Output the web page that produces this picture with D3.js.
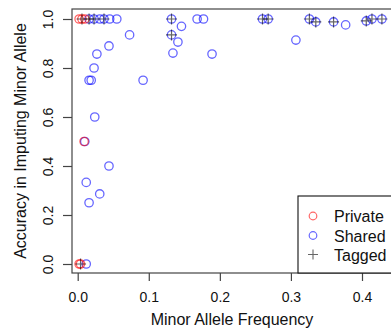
<!DOCTYPE html>
<html><head><meta charset="utf-8">
<script src="https://cdn.jsdelivr.net/npm/d3@7"></script>
<style>html,body{margin:0;padding:0;background:#fff}svg{display:block}text{font-family:"Liberation Sans",Arial,Helvetica,sans-serif}</style>
</head><body><svg id="c" width="391" height="335"></svg>
<script>
// Data
const privMaf = [0.002, 0.006, 0.010, 0.009, 0.002, 0.004];
const privAcc = [1, 1, 1, 0.5, 0, 0];
const privTag = [0, 1, 0, 0, 0, 1];

const sharedMaf = [0.016,0.023,0.031,0.037,0.045,0.055,0.132,0.168,0.177,0.260,0.268,0.326,0.414,0.428,
  0.335,0.360,0.377,0.406,0.132,0.146,0.141,0.134,0.073,0.044,0.027,0.023,0.016,0.019,0.092,0.024,
  0.010,0.044,0.012,0.031,0.016,0.012,0.189,0.307];
const sharedAcc = [1,1,1,1,1,1,1,1,1,1,1,1,1,1,
  0.988,0.988,0.976,0.992,0.935,0.970,0.906,0.861,0.935,0.890,0.857,0.800,0.750,0.750,0.750,0.600,
  0.500,0.400,0.333,0.286,0.250,0,0.857,0.914];
const sharedTag = [1,1,0,1,0,0,1,0,0,1,1,1,1,1,
  1,1,0,1,1,0,0,0,0,0,0,0,0,0,0,0,
  0,0,0,0,0,0,0,0];

const xTicks = [0, 0.1, 0.2, 0.3, 0.4];
const yTicks = [0, 0.2, 0.4, 0.6, 0.8, 1.0];
const legendLabels = ["Private", "Shared", "Tagged"];

const svg = d3.select("#c");
const x = d3.scaleLinear().domain([0, 0.4]).range([77.7, 362]);
const y = d3.scaleLinear().domain([0, 1]).range([264, 19]);

const plotL = 72, plotT = 9, plotB = 273, plotR = 420;
const axisCol = "#444";

// box
svg.append("rect").attr("x", plotL).attr("y", plotT).attr("width", plotR - plotL).attr("height", plotB - plotT)
  .attr("fill", "none").attr("stroke", axisCol).attr("stroke-width", 1.2);

// x axis
const xa = svg.append("g").attr("transform", `translate(0,${plotB})`)
  .call(d3.axisBottom(x).tickValues(xTicks).tickFormat(d3.format(".1f")).tickSize(8).tickPadding(11));
xa.select(".domain").remove();
xa.selectAll("line").attr("stroke", axisCol).attr("stroke-width", 1.2);
xa.selectAll("text").attr("font-size", 14).attr("fill", "#111");

// y axis
const ya = svg.append("g").attr("transform", `translate(${plotL},0)`)
  .call(d3.axisLeft(y).tickValues(yTicks).tickFormat(d3.format(".1f")).tickSize(9).tickPadding(0));
ya.select(".domain").remove();
ya.selectAll("line").attr("stroke", axisCol).attr("stroke-width", 1.2);
ya.selectAll("text").attr("font-size", 14).attr("fill", "#111")
  .attr("x", null).attr("dy", null)
  .attr("text-anchor", "middle")
  .attr("transform", "translate(-19,0) rotate(-90)");

// titles
svg.append("text").attr("x", 232).attr("y", 325).attr("text-anchor", "middle")
  .attr("font-size", 16).attr("fill", "#111").text("Minor Allele Frequency");
svg.append("text").attr("transform", "translate(26,141) rotate(-90)").attr("text-anchor", "middle")
  .attr("font-size", 16).attr("fill", "#111").text("Accuracy in Imputing Minor Allele");

const red = "rgba(255,0,0,0.6)", blue = "rgba(0,0,255,0.6)", blk = "rgba(0,0,0,0.6)";
const r = 4.2;

const privData = privMaf.map((m, i) => ({m, a: privAcc[i], t: privTag[i]}));
const shData = sharedMaf.map((m, i) => ({m, a: sharedAcc[i], t: sharedTag[i]}));

svg.append("g").selectAll("circle").data(shData).join("circle")
  .attr("cx", d => x(d.m)).attr("cy", d => y(d.a)).attr("r", r)
  .attr("fill", "none").attr("stroke", blue).attr("stroke-width", 1.3);
svg.append("g").selectAll("circle").data(privData).join("circle")
  .attr("cx", d => x(d.m)).attr("cy", d => y(d.a)).attr("r", r)
  .attr("fill", "none").attr("stroke", red).attr("stroke-width", 1.3);

const tagged = privData.concat(shData).filter(d => d.t);
const cs = 5.5;
svg.append("g").selectAll("path").data(tagged).join("path")
  .attr("d", d => { const cx = x(d.m), cy = y(d.a); return `M${cx-cs},${cy}H${cx+cs}M${cx},${cy-cs}V${cy+cs}`; })
  .attr("stroke", blk).attr("stroke-width", 1.2).attr("fill", "none");

// legend
svg.append("rect").attr("x", 298).attr("y", 196).attr("width", 120).attr("height", plotB - 196)
  .attr("fill", "#fff").attr("stroke", "#111").attr("stroke-width", 1.1);
const ly = [216, 235.5, 254.5];
svg.append("circle").attr("cx", 313).attr("cy", ly[0]).attr("r", 3.8).attr("fill", "none").attr("stroke", red).attr("stroke-width", 1.2);
svg.append("circle").attr("cx", 313).attr("cy", ly[1]).attr("r", 3.8).attr("fill", "none").attr("stroke", blue).attr("stroke-width", 1.2);
svg.append("path").attr("d", `M${313-5},${ly[2]}H${313+5}M313,${ly[2]-5}V${ly[2]+5}`).attr("stroke", blk).attr("stroke-width", 1.1);
svg.append("g").selectAll("text").data(legendLabels).join("text")
  .attr("x", 334).attr("y", (d, i) => ly[i] + 6).attr("font-size", 16).attr("fill", "#111").text(d => d);
</script></body></html>
